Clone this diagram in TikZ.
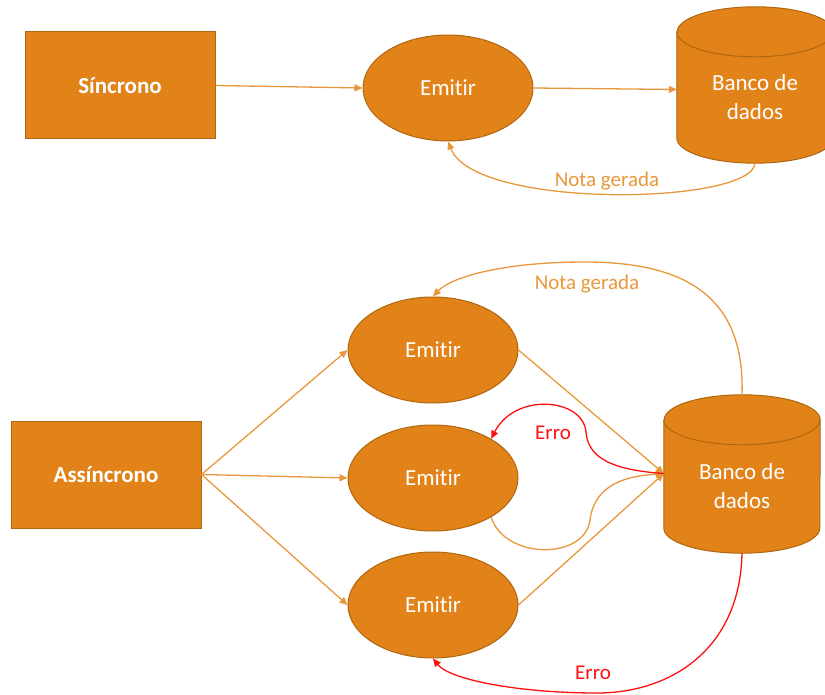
\documentclass[tikz,border=0pt]{standalone}
\usepackage{fontspec}
\setmainfont{Carlito}[Ligatures=NoCommon]
\usetikzlibrary{arrows.meta,backgrounds,calc,shapes.geometric}
\definecolor{orfill}{HTML}{E2831A}
\definecolor{ordraw}{HTML}{B0660F}
\definecolor{orline}{HTML}{E8973A}
\definecolor{errred}{HTML}{FF1010}
\begin{document}
\begin{tikzpicture}[x=1pt,y=1pt,
  box/.style={rectangle, fill=orfill, draw=ordraw, line width=1pt, text=white,
    font=\fontsize{23}{28}\selectfont\bfseries, minimum width=190pt, minimum height=107pt, inner sep=0pt},
  emitnode/.style={ellipse, fill=orfill, draw=ordraw, line width=1pt, text=white,
    font=\fontsize{23}{28}\selectfont, minimum width=170pt, minimum height=106pt, inner sep=0pt},
  dbnode/.style={rectangle, text=white, align=center, font=\fontsize{23}{29}\selectfont,
    minimum width=156pt, inner sep=0pt},
  dbcyl/.style={fill=orfill, draw=ordraw, line width=1pt},
  arr/.style={draw=orline, line width=1.3pt, -{Triangle[length=8pt,width=7pt]}},
  errarr/.style={draw=errred, line width=1.3pt, -{Triangle[length=8pt,width=7pt]}},
  lbl/.style={text=orline, font=\fontsize{21}{25}\selectfont, inner sep=1pt},
  errlbl/.style={text=errred, font=\fontsize{21}{25}\selectfont, inner sep=1pt}
]
\useasboundingbox (0,0) rectangle (825,-695);

% ---------- Sincrono ----------
\node[box] (sinc) at (120,-85.5) {Síncrono};
\node[emitnode] (emit0) at (448,-88) {Emitir};
% node spans from top-ellipse centre to cylinder bottom
\node[dbnode, minimum height=131pt] (db0) at (755,-97.5) {Banco de\\dados};

% ---------- Assincrono ----------
\node[box] (async) at (106,-474.5) {Assíncrono};
\node[emitnode] (e1) at (433,-350) {Emitir};
\node[emitnode] (e2) at (433,-478) {Emitir};
\node[emitnode] (e3) at (433,-605) {Emitir};
\node[dbnode, minimum height=133pt] (db1) at (742,-486.5) {Banco de\\dados};

\begin{scope}[on background layer]
\foreach \n in {db0,db1}{
  \draw[dbcyl] (\n.north west) -- ($(\n.south west)+(0,25)$)
    arc[start angle=180,end angle=360,x radius=78,y radius=25]
    -- (\n.north east)
    arc[start angle=0,end angle=180,x radius=78,y radius=25] -- cycle;
  \draw[draw=ordraw, line width=1pt] (\n.north west)
    arc[start angle=180,end angle=360,x radius=78,y radius=25];
}
\end{scope}

% ---------- top connectors ----------
\draw[arr] (sinc.east) -- (emit0.west);
\draw[arr] (emit0.east) -- ([yshift=8pt]db0.west);
\draw[arr] (db0.south) .. controls (752,-205) and (475,-210) .. (emit0.south);
\node[lbl] (ng0) at (607,-181) {Nota gerada};

% ---------- bottom connectors ----------
\coordinate (dbin) at ([yshift=13pt]db1.west);
\draw[arr] (async.east) -- (e1.west);
\draw[arr] (async.east) -- (e2.west);
\draw[arr] (async.east) -- (e3.west);
\draw[arr] (e1.east) -- (dbin);
\draw[arr] (e3.east) -- (dbin);
\draw[arr] (e2.-34) .. controls (505,-560) and (585,-560) .. (590,-520)
  .. controls (595,-482) and (630,-476) .. (dbin);
\draw[errarr] (dbin) .. controls (612,-470) and (588,-458) .. (586,-432)
  .. controls (583,-398) and (515,-392) .. (e2.34);
\node[errlbl] (err1) at (553,-433) {Erro};
\draw[arr] ([yshift=25pt]db1.north) .. controls (745,-300) and (690,-262) .. (585,-262)
  .. controls (500,-262) and (450,-278) .. (e1.north);
\node[lbl] (ng1) at (587,-284) {Nota gerada};
\draw[errarr] (db1.south) .. controls (740,-650) and (670,-693) .. (597,-693)
  .. controls (520,-693) and (450,-680) .. (e3.south);
\node[errlbl] (err2) at (593,-673) {Erro};
\end{tikzpicture}
\end{document}
